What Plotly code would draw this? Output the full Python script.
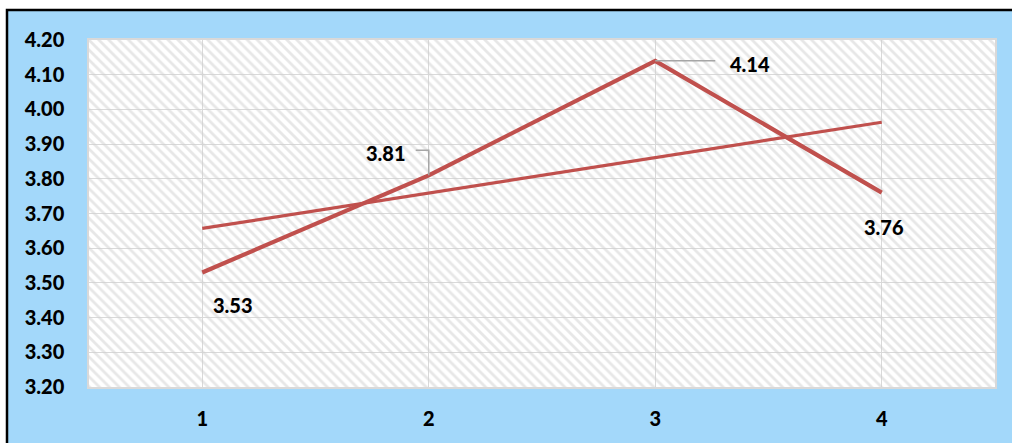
import numpy as np
import plotly.graph_objects as go

categories = [1, 2, 3, 4]
values = [3.53, 3.81, 4.14, 3.76]
value_labels = ["3.53", "3.81", "4.14", "3.76"]
y_range = [3.20, 4.20]
x_range = [0.5, 4.5]

# linear trendline computed from data
slope, intercept = np.polyfit(categories, values, 1)
trend = [slope * c + intercept for c in categories]

RED = "#c0504d"
BLUE = "#a3d8fa"
GRID = "#d9d9d9"
FONT = "Lato, Open Sans, sans-serif"

W, H = 1012, 443
L, R, T, B = 89, 17, 40, 56
pw, ph = W - L - R, H - T - B

fig = go.Figure()

# hatched plot-area background
fig.add_trace(go.Scatter(
    x=[x_range[0], x_range[1], x_range[1], x_range[0], x_range[0]],
    y=[y_range[0], y_range[0], y_range[1], y_range[1], y_range[0]],
    mode="none", fill="toself", fillcolor="rgba(0,0,0,0)",
    fillpattern=dict(shape="\\", fgcolor="#d0d0d0", bgcolor="rgba(0,0,0,0)",
                     size=7, solidity=0.4),
    hoverinfo="skip", showlegend=False,
))

fig.add_trace(go.Scatter(x=categories, y=trend, mode="lines",
                         line=dict(color=RED, width=3.2), showlegend=False))
fig.add_trace(go.Scatter(x=categories, y=values, mode="lines",
                         line=dict(color=RED, width=4.2), showlegend=False))

# labels (pixel offsets relative to points)
offsets = [(31, -33), (-43, 22), (95, -3), (2, -34)]
for c, v, t, (dx, dy) in zip(categories, values, value_labels, offsets):
    fig.add_annotation(x=c, y=v, xref="x", yref="y", text=t, showarrow=False,
                       xshift=dx, yshift=dy,
                       font=dict(family=FONT, size=20, color="black", weight=900))

# leader lines
fig.add_shape(type="path", xref="x", yref="y", xsizemode="pixel", ysizemode="pixel",
              xanchor=categories[1], yanchor=values[1],
              path="M0,0 L0,25 L-13,25", line=dict(color="#a6a6a6", width=1.5))
fig.add_shape(type="path", xref="x", yref="y", xsizemode="pixel", ysizemode="pixel",
              xanchor=categories[2], yanchor=values[2],
              path="M0,0 L60,0", line=dict(color="#a6a6a6", width=1.5))

# outer chart frame: white strip top/left, black border
bx0 = (7 - L) / pw
by1 = 1 + (T - 10) / ph
fig.add_shape(type="rect", xref="paper", yref="paper", x0=-1, x1=2, y0=by1, y1=2,
              fillcolor="white", line_width=0, layer="above")
fig.add_shape(type="rect", xref="paper", yref="paper", x0=-1, x1=bx0, y0=-2, y1=2,
              fillcolor="white", line_width=0, layer="above")
fig.add_shape(type="rect", xref="paper", yref="paper", x0=bx0, x1=2, y0=-2, y1=by1,
              line=dict(color="black", width=2.5), fillcolor="rgba(0,0,0,0)", layer="above")

tick_font = dict(family=FONT, size=20, color="black", weight=900)
fig.update_layout(
    width=W, height=H,
    margin=dict(l=L, r=R, t=T, b=B, autoexpand=False),
    paper_bgcolor=BLUE, plot_bgcolor="white",
    font=dict(family=FONT, size=20, color="black"),
    xaxis=dict(range=x_range, tickvals=categories, ticktext=[str(c) for c in categories],
               showgrid=True, gridcolor=GRID, gridwidth=1, automargin=False,
               showline=True, linecolor=GRID, linewidth=1.5, mirror=True,
               zeroline=False, ticks="", ticklabelstandoff=13, tickfont=tick_font),
    yaxis=dict(range=y_range, dtick=0.1, tick0=3.2, tickformat=".2f",
               showgrid=True, gridcolor=GRID, gridwidth=1, automargin=False,
               showline=True, linecolor=GRID, linewidth=1.5, mirror=True,
               zeroline=False, ticks="", ticklabelstandoff=19, tickfont=tick_font),
)

fig.write_html("out.html")
